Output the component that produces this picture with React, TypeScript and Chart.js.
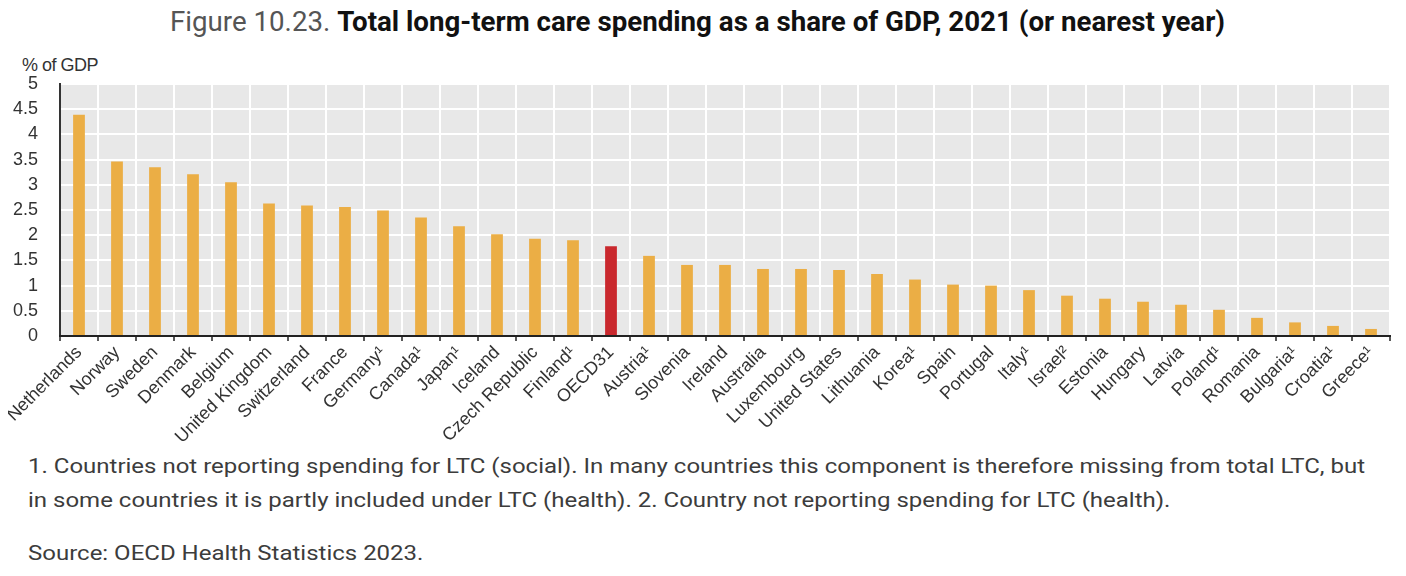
import React, { useEffect, useRef } from "react";
import { Chart, registerables } from "chart.js";

Chart.register(...registerables);

const countries = [
  "Netherlands", "Norway", "Sweden", "Denmark", "Belgium", "United Kingdom",
  "Switzerland", "France", "Germany¹", "Canada¹", "Japan¹", "Iceland",
  "Czech Republic", "Finland¹", "OECD31", "Austria¹", "Slovenia", "Ireland",
  "Australia", "Luxembourg", "United States", "Lithuania", "Korea¹", "Spain",
  "Portugal", "Italy¹", "Israel²", "Estonia", "Hungary", "Latvia", "Poland¹",
  "Romania", "Bulgaria¹", "Croatia¹", "Greece¹",
];

const spendingShare = [
  4.39, 3.46, 3.35, 3.21, 3.05, 2.63,
  2.59, 2.56, 2.49, 2.35, 2.18, 2.02,
  1.93, 1.90, 1.78, 1.59, 1.41, 1.41,
  1.33, 1.33, 1.31, 1.23, 1.12, 1.02,
  1.00, 0.91, 0.80, 0.74, 0.68, 0.62, 0.52,
  0.36, 0.27, 0.20, 0.14,
];

const highlighted = "OECD31";
const yMin = 0;
const yMax = 5;
const yStep = 0.5;

const TITLE_PREFIX = "Figure 10.23. ";
const TITLE_MAIN = "Total long-term care spending as a share of GDP, 2021 (or nearest year)";
const Y_UNIT = "% of GDP";
const NOTE_1 = "1. Countries not reporting spending for LTC (social). In many countries this component is therefore missing from total LTC, but";
const NOTE_2 = "in some countries it is partly included under LTC (health). 2. Country not reporting spending for LTC (health).";
const SOURCE = "Source: OECD Health Statistics 2023.";

const BAR_COLOR = "#EBAE45";
const HIGHLIGHT_COLOR = "#C9282D";

let measureCtx: CanvasRenderingContext2D | null = null;
function textWidth(text: string, font: string): number {
  if (!measureCtx) measureCtx = document.createElement("canvas").getContext("2d");
  if (!measureCtx) return text.length * 10;
  measureCtx.font = font;
  return measureCtx.measureText(text).width;
}

const plotBackground = {
  id: "plotBackground",
  beforeDraw(chart: any) {
    const { ctx, chartArea } = chart;
    ctx.save();
    ctx.fillStyle = "#e8e8e8";
    ctx.fillRect(chartArea.left, chartArea.top, chartArea.right - chartArea.left, chartArea.bottom - chartArea.top);
    ctx.restore();
  },
};

function BarChart() {
  const ref = useRef<HTMLCanvasElement | null>(null);
  useEffect(() => {
    if (!ref.current) return;
    const chart = new Chart(ref.current, {
      type: "bar",
      data: {
        labels: countries,
        datasets: [
          {
            data: spendingShare,
            backgroundColor: countries.map((c) => (c === highlighted ? HIGHLIGHT_COLOR : BAR_COLOR)),
            barPercentage: 0.31,
            categoryPercentage: 1,
            borderWidth: 0,
          },
        ],
      },
      options: {
        animation: false,
        responsive: false,
        devicePixelRatio: 1,
        layout: { padding: { top: 24, right: 11, left: 0, bottom: 0 } },
        plugins: { legend: { display: false }, tooltip: { enabled: false }, title: { display: false } },
        scales: {
          x: {
            type: "category",
            offset: true,
            grid: {
              color: "#ffffff",
              lineWidth: 2,
              offset: true,
              drawTicks: true,
              tickLength: 5,
              tickColor: "#222",
              tickWidth: 1.5,
            },
            border: { color: "#222", width: 2, z: 1 },
            ticks: {
              autoSkip: false,
              maxRotation: 45,
              minRotation: 45,
              padding: 1,
              color: "#333",
              font: { family: "'Liberation Sans', Arial, sans-serif", size: 18 },
            },
            afterFit(scale: any) {
              scale.height = 114;
            },
          },
          y: {
            min: yMin,
            max: yMax,
            grid: {
              color: "#ffffff",
              lineWidth: 2,
              drawTicks: true,
              tickLength: 19,
              tickColor: "rgba(0,0,0,0)",
            },
            border: { color: "#333", width: 2 },
            ticks: {
              stepSize: yStep,
              autoSkip: false,
              padding: 3,
              color: "#333",
              font: { family: "'Liberation Sans', Arial, sans-serif", size: 18 },
              callback: (v: any) => String(Number(v)),
            },
            afterFit(scale: any) {
              scale.width = 52;
            },
          },
        },
      },
      plugins: [plotBackground],
    } as any);
    return () => chart.destroy();
  }, []);
  return <canvas ref={ref} width={1393} height={390} style={{ position: "absolute", left: 0, top: 52 }} />;
}

export default function App() {
  const titleSize = 28;
  const titleW =
    textWidth(TITLE_PREFIX, `400 ${titleSize}px Roboto`) + textWidth(TITLE_MAIN, `700 ${titleSize}px Roboto`);
  const titleScale = 1055 / titleW;
  const noteSize = 21;
  const noteScale = 1337 / textWidth(NOTE_1, `400 ${noteSize}px Roboto`);

  const noteStyle: React.CSSProperties = {
    position: "absolute",
    left: 20,
    whiteSpace: "nowrap",
    fontFamily: "Roboto, sans-serif",
    fontSize: noteSize,
    lineHeight: `${noteSize}px`,
    color: "#3c3c3c",
    transform: `scaleX(${noteScale})`,
    transformOrigin: "left top",
  };

  return (
    <div style={{ position: "relative", width: 1390, height: 560, background: "#fff" }}>
      <div
        style={{
          position: "absolute",
          left: 162,
          top: 0,
          whiteSpace: "nowrap",
          fontFamily: "Roboto, sans-serif",
          fontSize: titleSize,
          lineHeight: `${titleSize}px`,
          transform: `scaleX(${titleScale})`,
          transformOrigin: "left top",
        }}
      >
        <span style={{ fontWeight: 400, color: "#555" }}>{TITLE_PREFIX}</span>
        <span style={{ fontWeight: 700, color: "#111" }}>{TITLE_MAIN}</span>
      </div>
      <div
        style={{
          position: "absolute",
          left: 14,
          top: 48,
          whiteSpace: "nowrap",
          fontFamily: "'Liberation Sans', Arial, sans-serif",
          fontSize: 18,
          lineHeight: "18px",
          color: "#333",
          letterSpacing: -0.5,
        }}
      >
        {Y_UNIT}
      </div>
      <BarChart />
      <div style={{ ...noteStyle, top: 448 }}>{NOTE_1}</div>
      <div style={{ ...noteStyle, top: 482 }}>{NOTE_2}</div>
      <div style={{ ...noteStyle, top: 535 }}>{SOURCE}</div>
    </div>
  );
}
